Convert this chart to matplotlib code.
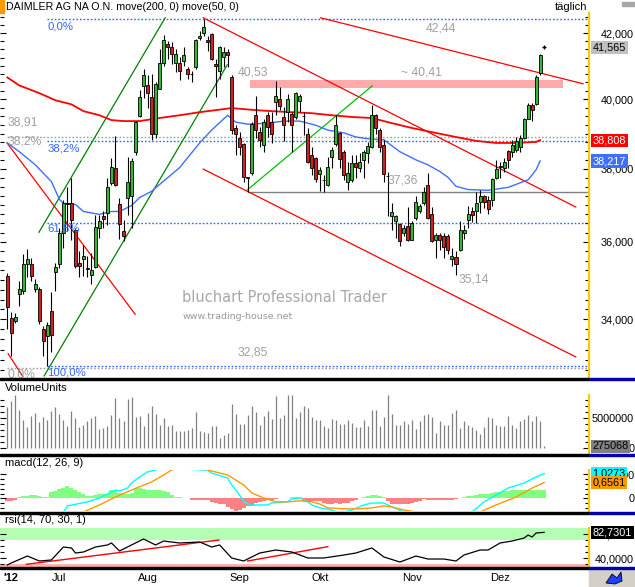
import numpy as np
import matplotlib
matplotlib.use('Agg')
import matplotlib.pyplot as plt
from matplotlib.patches import Rectangle, Polygon
from matplotlib.ticker import FixedLocator, FixedFormatter, NullFormatter

plt.rcParams['font.family'] = ['Liberation Sans', 'DejaVu Sans']

W, H = 635, 587

# ---- daily candles (index 1 = 13 Jun 2012) ----
opens = [35.10, 34.03, 33.95, 34.64, 34.72, 35.41, 35.43, 34.76, 34.77, 33.76,
         33.58, 34.21, 35.21, 35.43, 36.25, 37.06, 37.04, 36.33, 35.45, 35.54,
         35.32, 35.14, 35.35, 36.37, 36.70, 36.78, 37.59, 38.03, 37.02, 36.30,
         37.20, 37.23, 38.46, 39.51, 40.39, 40.43, 40.06, 39.00, 40.31, 41.10,
         41.66, 41.56, 41.10, 41.10, 41.15, 40.90, 40.76, 40.95, 41.85, 42.00,
         41.80, 41.97, 41.05, 40.85, 41.26, 41.43, 40.66, 39.15, 38.86, 38.70,
         37.76, 37.87, 39.55, 39.05, 38.67, 39.55, 39.34, 39.93, 40.01, 39.48,
         39.63, 39.58, 39.48, 39.96, 39.52, 39.00, 38.38, 38.31, 37.84, 37.69,
         37.56, 38.34, 38.69, 39.02, 38.48, 37.62, 37.69, 38.15, 38.03, 38.24,
         38.45, 38.62, 39.55, 39.10, 38.67, 37.80, 36.69, 36.55, 36.48, 36.24,
         36.43, 36.06, 36.64, 36.82, 37.04, 37.56, 36.75, 36.06, 36.19, 36.17,
         36.17, 35.54, 35.61, 35.80, 36.24, 36.60, 36.84, 36.82, 37.07, 37.23,
         37.14, 37.14, 37.73, 38.08, 38.03, 38.50, 38.46, 38.52, 38.62, 38.88,
         39.43, 39.82, 39.87, 40.78]
highs = [35.18, 34.18, 34.17, 34.98, 35.67, 35.82, 35.58, 35.02, 34.81, 33.84,
         33.93, 34.69, 35.45, 36.37, 37.14, 37.50, 37.73, 36.37, 35.75, 35.93,
         35.63, 35.71, 36.73, 36.73, 36.82, 37.73, 38.29, 38.93, 37.18, 36.60,
         38.34, 38.29, 39.36, 40.26, 40.90, 40.71, 40.76, 40.51, 41.51, 41.94,
         41.77, 41.72, 41.51, 41.26, 41.56, 40.95, 40.85, 41.82, 42.07, 42.44,
         41.92, 42.02, 41.20, 41.61, 41.56, 41.51, 40.71, 39.24, 39.05, 38.72,
         37.78, 39.34, 40.11, 39.19, 39.43, 39.63, 39.63, 40.53, 40.36, 39.77,
         40.16, 39.63, 40.21, 40.16, 39.63, 39.15, 38.62, 38.34, 38.05, 37.82,
         38.34, 38.62, 39.53, 39.05, 38.52, 38.19, 38.38, 38.38, 38.43, 38.52,
         38.76, 39.82, 39.58, 39.15, 38.81, 37.91, 37.04, 36.73, 36.51, 36.46,
         36.93, 36.55, 37.23, 37.02, 37.50, 37.89, 36.93, 36.24, 36.24, 36.24,
         36.21, 35.84, 35.75, 36.55, 36.46, 36.96, 36.93, 37.36, 37.41, 37.27,
         37.23, 37.73, 38.24, 38.19, 38.29, 38.52, 38.81, 38.91, 38.95, 39.45,
         39.90, 39.90, 40.71, 41.36]
lows = [33.76, 33.10, 33.90, 34.34, 34.65, 35.07, 34.98, 34.70, 33.88, 33.10,
        32.85, 33.20, 34.72, 35.32, 35.84, 36.28, 36.06, 35.32, 35.07, 35.11,
        35.07, 34.89, 35.32, 36.10, 36.37, 36.46, 37.55, 37.53, 36.09, 36.02,
        36.73, 36.37, 38.38, 39.48, 40.03, 39.74, 38.81, 38.86, 40.29, 41.00,
        41.20, 41.05, 40.80, 40.56, 41.00, 40.61, 40.51, 40.90, 41.80, 41.92,
        41.46, 41.17, 40.06, 40.61, 40.95, 40.95, 39.00, 38.38, 38.38, 37.64,
        37.36, 37.82, 38.86, 38.62, 38.46, 38.91, 38.72, 39.53, 39.67, 38.78,
        39.34, 38.48, 39.43, 39.63, 38.95, 38.15, 37.82, 37.64, 37.38, 37.35,
        37.53, 38.03, 38.65, 38.01, 37.69, 37.41, 37.64, 37.73, 37.91, 37.73,
        38.15, 38.59, 39.00, 38.48, 37.64, 36.69, 36.33, 36.10, 35.88, 36.15,
        36.03, 36.04, 36.60, 36.78, 37.00, 36.62, 35.99, 35.58, 35.80, 35.58,
        35.67, 35.37, 35.14, 35.75, 36.09, 36.37, 36.53, 36.51, 36.78, 36.91,
        36.75, 36.96, 37.71, 37.75, 37.91, 38.01, 38.34, 38.48, 38.48, 38.84,
        39.41, 39.36, 39.82, 40.73]
closes = [34.30, 33.65, 34.05, 34.77, 35.41, 35.56, 35.11, 34.89, 33.97, 33.47,
          33.87, 33.60, 35.35, 36.24, 37.06, 37.03, 36.60, 35.37, 35.37, 35.64,
          35.29, 35.26, 36.39, 36.55, 36.62, 37.50, 38.05, 37.55, 36.48, 36.15,
          37.62, 38.22, 39.32, 40.07, 40.71, 40.18, 39.00, 40.46, 41.10, 41.79,
          41.56, 41.36, 41.36, 40.85, 41.33, 40.76, 40.75, 41.79, 41.92, 42.18,
          41.72, 41.20, 41.00, 41.56, 41.43, 41.34, 39.10, 39.00, 38.62, 37.78,
          37.74, 39.29, 39.10, 38.81, 39.34, 39.19, 39.00, 40.11, 39.80, 39.24,
          40.01, 39.26, 40.19, 40.11, 39.50, 38.19, 38.03, 37.70, 37.96, 37.68,
          38.05, 38.52, 39.26, 38.27, 37.82, 37.87, 38.15, 38.05, 38.18, 38.46,
          38.64, 39.55, 39.15, 38.62, 37.84, 37.79, 36.80, 36.70, 36.03, 36.37,
          36.06, 36.51, 37.09, 36.96, 37.36, 36.64, 36.02, 36.19, 36.06, 35.86,
          35.80, 35.63, 35.43, 36.31, 36.33, 36.75, 36.73, 37.04, 37.23, 37.07,
          36.89, 37.70, 37.99, 38.06, 38.19, 38.24, 38.67, 38.78, 38.88, 39.43,
          39.84, 39.67, 40.66, 41.33]
last_tick = 41.565

# moving averages
ma200_idx = [1, 4, 9, 13, 17, 20, 24, 27, 30, 34, 39, 44, 49, 53, 57, 63, 67, 72, 77, 82,
             87, 92, 97, 102, 107, 113, 118, 123, 128, 133, 134]
ma200_val = [40.65, 40.41, 40.18, 39.97, 39.85, 39.65, 39.53, 39.39, 39.36, 39.36, 39.45,
             39.53, 39.62, 39.68, 39.74, 39.68, 39.65, 39.62, 39.59, 39.53, 39.48, 39.45,
             39.30, 39.16, 39.04, 38.90, 38.79, 38.73, 38.73, 38.76, 38.81]
ma50_idx = [1, 4, 8, 12, 14, 15, 18, 20, 24, 27, 29, 32, 34, 37, 39, 44, 49, 52, 56, 58,
            61, 66, 70, 74, 78, 81, 85, 88, 91, 95, 99, 103, 106, 109, 111, 113, 116, 121,
            126, 131, 133, 134]
ma50_val = [38.73, 38.48, 38.11, 37.64, 37.15, 37.04, 37.01, 36.82, 36.74, 36.82, 36.82,
            36.98, 37.20, 37.37, 37.56, 38.03, 38.73, 39.10, 39.53, 39.33, 39.27, 39.30,
            39.36, 39.36, 39.24, 39.10, 39.02, 38.90, 38.85, 38.82, 38.48, 38.25, 38.11,
            37.92, 37.76, 37.51, 37.42, 37.40, 37.48, 37.69, 37.97, 38.22]
ma200_last, ma50_last = 38.808, 38.217

# drawn trend lines: (x0, x1), (y0, y1)
red_lines = [((0.93, 32.9), (38.73, 34.13)),
             ((49.9, 142.9), (42.48, 36.94)),
             ((79.2, 144.7), (42.48, 40.46)),
             ((49.9, 142.9), (37.99, 33.07)),
             ((1.2, 4.9), (33.15, 32.59))]
dark_green_lines = [((8.9, 40.4), (36.26, 42.48)),
                    ((10.2, 55.9), (32.61, 41.03))]
light_green_lines = [((60.9, 92.1), (37.41, 40.40))]

fib_high, fib_low = 42.44, 32.85
fib_pct = [0.0, 38.2, 61.8, 100.0]
grey_levels = [38.91, 32.80]
support = 37.36
zone_lo, zone_hi = 40.33, 40.56

# volume in millions
volume = [6.78, 7.89, 8.89, 6.39, 4.72, 3.44, 5.28, 5.83, 4.33, 5.11,
          4.72, 6.11, 6.89, 5.67, 4.72, 3.61, 6.22, 5.00, 3.44, 3.89,
          4.44, 5.00, 5.33, 3.17, 3.33, 3.61, 5.56, 8.33, 5.00, 4.56,
          8.22, 8.56, 5.11, 5.28, 3.61, 5.83, 7.00, 5.72, 3.89, 5.00,
          3.61, 3.78, 2.78, 2.89, 2.89, 3.00, 3.33, 6.00, 2.78, 2.67,
          2.44, 3.61, 3.61, 1.67, 2.11, 2.50, 7.33, 5.67, 4.00, 4.00,
          5.56, 7.00, 6.00, 3.78, 5.33, 6.11, 4.89, 8.67, 5.00, 5.56,
          8.89, 8.89, 5.00, 6.00, 6.94, 6.67, 5.11, 4.72, 4.72, 3.61,
          3.33, 4.89, 4.72, 4.00, 4.00, 4.72, 4.17, 3.50, 3.50, 4.72,
          3.61, 6.39, 6.39, 3.61, 5.11, 8.89, 5.67, 3.78, 3.78, 4.56,
          4.00, 4.67, 3.22, 4.44, 5.56, 5.67, 5.11, 2.50, 4.56, 3.89,
          3.89, 5.83, 6.39, 3.33, 4.44, 3.89, 3.44, 3.06, 2.33, 3.44,
          5.17, 5.00, 3.89, 3.61, 3.72, 5.33, 3.78, 3.33, 4.44, 4.78,
          5.56, 4.56, 5.28, 4.44, 0.275068]

# macd(12, 26, 9)
macd_idx = [13, 15, 16, 21, 24, 27, 28, 29, 31, 32, 34, 36, 38, 41, 44, 47, 51, 52, 56, 57,
            59, 60, 62, 66, 67, 71, 72, 74, 76, 77, 79, 82, 84, 87, 90, 92, 95, 97, 100, 104,
            110, 114, 117, 120, 123, 126, 130, 133, 135]
macd_val = [-0.80, -0.56, -0.31, -0.14, 0.02, 0.27, 0.35, 0.31, 0.43, 0.64, 0.89, 1.10, 1.18,
            1.35, 1.40, 1.20, 1.17, 1.05, 0.85, 0.56, 0.14, -0.14, -0.27, -0.27, -0.19, -0.14,
            -0.02, 0.02, -0.14, -0.27, -0.39, -0.48, -0.60, -0.48, -0.27, -0.19, -0.19, -0.35,
            -0.56, -0.70, -0.75, -0.70, -0.56, -0.14, 0.14, 0.43, 0.64, 0.89, 1.0273]
signal_idx = [16, 20, 24, 28, 32, 37, 40, 42, 45, 48, 51, 56, 60, 62, 65, 68, 71, 74, 77, 79,
              81, 85, 89, 92, 95, 97, 100, 103, 108, 113, 119, 123, 128, 132, 135]
signal_val = [-0.70, -0.56, -0.27, 0.06, 0.35, 0.68, 0.97, 1.18, 1.30, 1.32, 1.18, 0.97, 0.56,
              0.23, 0.02, -0.14, -0.14, -0.10, -0.14, -0.23, -0.39, -0.43, -0.43, -0.39, -0.31,
              -0.35, -0.48, -0.56, -0.70, -0.72, -0.56, -0.27, 0.06, 0.43, 0.6561]
macd_hist = [-0.10, -0.12, -0.08, 0.08, 0.10, 0.12, 0.15, 0.14, 0.12, 0.08,
             0.06, 0.25, 0.30, 0.38, 0.44, 0.51, 0.45, 0.37, 0.25, 0.19,
             0.10, 0.10, 0.15, 0.17, 0.17, 0.20, 0.33, 0.33, 0.22, 0.19,
             0.19, 0.22, 0.44, 0.42, 0.38, 0.37, 0.36, 0.36, 0.35, 0.30,
             0.25, 0.15, 0.08, 0.04, 0.0, 0.0, -0.05, -0.06, -0.07, -0.07,
             -0.08, -0.15, -0.18, -0.22, -0.25, -0.35, -0.45, -0.50, -0.48, -0.40,
             -0.32, -0.30, -0.20, -0.15, -0.11, -0.08, -0.05, -0.03, 0.0, 0.0,
             0.02, 0.06, 0.08, 0.05, -0.11, -0.12, -0.11, -0.10, -0.11, -0.18,
             -0.22, -0.22, -0.20, -0.22, -0.20, -0.18, -0.12, -0.06, 0.0, 0.05,
             0.12, 0.14, 0.14, 0.10, 0.05, -0.12, -0.22, -0.25, -0.25, -0.25,
             -0.22, -0.20, -0.15, -0.10, -0.04, -0.07, -0.07, -0.07, -0.07, -0.07,
             -0.06, -0.05, -0.02, 0.0, 0.06, 0.10, 0.12, 0.15, 0.17, 0.18,
             0.20, 0.22, 0.25, 0.28, 0.30, 0.32, 0.33, 0.33, 0.35, 0.35,
             0.35, 0.36, 0.36, 0.37, 0.37]

# rsi(14, 70, 30, 1)
rsi_idx = [1, 2, 6, 9, 12, 15, 17, 18, 20, 23, 26, 27, 29, 32, 35, 38, 40, 44, 49, 52,
           54, 57, 60, 64, 68, 72, 76, 80, 85, 88, 92, 95, 99, 103, 106, 110, 113, 115, 119,
           121, 124, 127, 130, 131, 132, 133, 135]
rsi_val = [28.3, 31.7, 43.3, 35.0, 36.7, 58.3, 56.7, 48.3, 50.0, 58.3, 61.7, 65.0, 51.7,
           61.7, 71.7, 61.7, 68.3, 65.0, 66.7, 58.3, 61.7, 40.0, 35.0, 48.3, 53.3, 50.0,
           40.0, 40.0, 45.0, 48.3, 56.7, 41.7, 33.3, 43.3, 38.3, 38.3, 35.0, 45.0, 53.3,
           53.3, 65.0, 68.3, 73.3, 78.3, 75.0, 81.7, 82.7301]
rsi_lines = [((5.75, 53.8), (29.5, 70.0)), ((61.0, 81.0), (35.0, 58.9))]

month_idx = [2, 14, 36, 59, 79, 102, 124]
month_lab = ["'12", 'Jul', 'Aug', 'Sep', 'Okt', 'Nov', 'Dez']

X0, X1 = -0.83, 146.2
BLUE = '#3366FF'
GREY = '#A0A0A0'
YELLOW = '#FFC800'

fig = plt.figure(figsize=(W / 100, H / 100), dpi=100)
fig.patch.set_facecolor('white')


def px_axes(x0, y0, x1, y1):
    return fig.add_axes([x0 / W, 1 - y1 / H, (x1 - x0) / W, (y1 - y0) / H])


def px_rect(x, y, w, h, **kw):
    fig.patches.append(Rectangle((x / W, 1 - (y + h) / H), w / W, h / H,
                                 transform=fig.transFigure, **kw))


def px_text(x, y, s, size=8, **kw):
    fig.text(x / W, 1 - y / H, s, va='center', fontsize=size, **kw)


def style_panel(a, major, labels, minor):
    a.set_xlim(X0, X1)
    for s in ('top', 'bottom', 'left'):
        a.spines[s].set_visible(False)
    a.spines['right'].set_color(YELLOW)
    a.spines['right'].set_linewidth(1.6)
    a.set_xticks([])
    a.yaxis.set_major_locator(FixedLocator(major))
    a.yaxis.set_major_formatter(FixedFormatter(labels))
    a.yaxis.set_minor_locator(FixedLocator(minor))
    a.yaxis.set_minor_formatter(NullFormatter())
    a.tick_params(axis='y', which='both', direction='in', left=True, right=True,
                  labelleft=False, labelright=True, width=0.8, colors='black',
                  pad=32.5, labelsize=7.8)
    a.tick_params(axis='y', which='major', length=4)
    a.tick_params(axis='y', which='minor', length=3)
    for t in a.yaxis.get_major_ticks():
        t.label2.set_horizontalalignment('right')


def value_box(a, val, text, fc, tc, z=10):
    a.text(1.006, val, text, transform=a.get_yaxis_transform(), ha='left', va='center',
           fontsize=7.8, color=tc, clip_on=False, zorder=z,
           bbox=dict(boxstyle='square,pad=0.15', fc=fc, ec='none'))


# ---------------- price panel ----------------
ax = px_axes(0, 13, 589, 378)
ax.set_yscale('log')
ax.set_ylim(32.56, 42.63)
style_panel(ax, [34, 36, 38, 40, 42], ['34,000', '36,000', '38,000', '40,000', '42,000'],
            np.arange(32.75, 42.6, 0.25))

idx = np.arange(1, len(opens) + 1)
o, h, l, c = map(np.array, (opens, highs, lows, closes))

fib_prices = [fib_high - p / 100 * (fib_high - fib_low) for p in fib_pct]
ax.hlines(fib_prices, 11, X1, colors=BLUE, linestyles=(0, (1.2, 1.4)), lw=1, zorder=1)
ax.hlines(grey_levels, 1, X1, colors=GREY, linestyles=(0, (1.2, 1.4)), lw=1, zorder=1)
ax.hlines(support, 61, X1, colors='#808080', lw=1, zorder=1)
ax.fill_between([61.7, 139.7], zone_lo, zone_hi, color='#FFAAAA', lw=0, zorder=0.5)

for xs, ys in red_lines:
    ax.plot(xs, ys, color='#FF0000', lw=0.9, zorder=2)
for xs, ys in dark_green_lines:
    ax.plot(xs, ys, color='#008000', lw=0.9, zorder=2)
for xs, ys in light_green_lines:
    ax.plot(xs, ys, color='#00C000', lw=0.9, zorder=2)

ax.plot(ma200_idx, ma200_val, color='#FF0000', lw=1.3, zorder=2.5)
ax.plot(ma50_idx, ma50_val, color='#3F6FFF', lw=1.0, zorder=2.5)

ax.vlines(idx, l, h, color='black', lw=0.8, zorder=3)
body_col = np.where(c >= o, '#33B833', '#D02020')
ax.bar(idx, np.maximum(np.abs(c - o), 0.012), bottom=np.minimum(o, c), width=0.75,
       color=body_col, edgecolor='black', linewidth=0.6, zorder=4)
ax.plot([len(opens) + 1], [last_tick], marker='+', ms=3, mew=1, color='black', zorder=4)

notes = [(11, 42.21, '0,0%', BLUE), (11, 38.57, '38,2%', BLUE), (11, 36.35, '61,8%', BLUE),
         (11, 32.70, '100,0%', BLUE), (1.0, 39.32, '38,91', GREY), (1.0, 38.76, '38,2%', GREY),
         (1.0, 32.65, '0,0%', GREY), (1.0, 42.76, '61,8%', GREY), (105.4, 42.16, '42,44', GREY),
         (58.4, 40.79, '40,53', GREY), (99.2, 40.79, '~ 40,41', GREY), (95.9, 37.66, '37,36', GREY),
         (113.7, 35.02, '35,14', GREY), (58.4, 33.17, '32,85', GREY)]
for x, y, s, col in notes:
    ax.text(x, y, s, color=col, fontsize=8.7 if col == GREY else 8.2, va='center',
            ha='left', zorder=5, clip_on=True)

ax.text(44.6, 34.56, 'bluchart Professional Trader', color='#A8A8A8', fontsize=10.5,
        va='center', ha='left', family='DejaVu Sans', zorder=1)
ax.text(44.7, 34.07, 'www.trading-house.net', color='#999999', fontsize=6.8,
        va='center', ha='left', family='DejaVu Sans', zorder=1)

value_box(ax, last_tick, '41,565', '#C0C0C0', 'black')
value_box(ax, ma200_last, '38,808', '#FF0000', 'white')
value_box(ax, ma50_last, '38,217', '#3F6FFF', 'white')

# ---------------- volume panel ----------------
axv = px_axes(0, 395, 589, 453)
axv.set_ylim(-0.83, 8.83)
style_panel(axv, [0, 5], ['0', '5000000'], np.arange(0, 9, 1))
axv.vlines(np.arange(1, len(volume) + 1), 0, volume, color='#808080', lw=0.9)
value_box(axv, volume[-1], '275068', '#808080', 'black')

# ---------------- macd panel ----------------
axm = px_axes(0, 470, 589, 511)
axm.set_ylim(-0.52, 1.178)
style_panel(axm, [0, 1], ['0', '1,0000'], np.arange(-0.4, 1.2, 0.2))
hist = np.array(macd_hist)
hcol = np.where(hist >= 0, '#80FF80', '#FF8080')
axm.bar(np.arange(1, len(hist) + 1), hist, width=1.0, color=hcol, lw=0, zorder=1)
axm.plot(macd_idx, macd_val, color='#00FFFF', lw=1.0, zorder=2)
axm.plot(signal_idx, signal_val, color='#FF9900', lw=1.0, zorder=2)
value_box(axm, macd_val[-1], '1,0273', '#00FFFF', 'black', 10)
value_box(axm, signal_val[-1], '0,6561', '#FF9900', 'black', 11)

# ---------------- rsi panel ----------------
axr = px_axes(0, 528, 589, 567)
axr.set_ylim(25, 90)
style_panel(axr, [40, 80], ['40,0000', '80,0000'], np.arange(30, 90, 10))
axr.axhspan(70, 100, color='#B4FFB4', lw=0, zorder=0)
axr.axhspan(0, 30, color='#FFB0B0', lw=0, zorder=0)
for xs, ys in rsi_lines:
    axr.plot(xs, ys, color='#FF0000', lw=1.0, zorder=2)
axr.plot(rsi_idx, rsi_val, color='black', lw=0.9, zorder=3)
value_box(axr, rsi_val[-1], '82,7301', 'black', 'white')
axr.set_xticks(month_idx)
axr.set_xticklabels(month_lab)
axr.tick_params(axis='x', length=0, pad=4, labelsize=8)
axr.get_xticklabels()[0].set_fontweight('bold')

# ---------------- frame, separators, labels ----------------
for y in (378, 453.5, 511.5, 567):
    px_rect(0, y, 589, 2, color='black', zorder=20)
    px_rect(589, y, 46, 2, color='#0000B0', zorder=20)
px_rect(0, 0, 4, 13, color='#FF9900')
px_rect(622, 2, 13, 4, color='#A8A8A8')
px_rect(589, 569, 46, 18, color='#D4D0C8')
fig.patches.append(Polygon([(606 / W, 1 - 583 / H), (612 / W, 1 - 574 / H),
                            (617 / W, 1 - 578 / H), (621 / W, 1 - 572 / H),
                            (622 / W, 1 - 581 / H), (615 / W, 1 - 584 / H)],
                           closed=True, transform=fig.transFigure, fc='#2040FF',
                           ec='black', lw=0.6))

px_text(6, 7, 'DAIMLER AG NA O.N. move(200, 0) move(50, 0)', size=7.7, ha='left')
px_text(587, 7, 'täglich', ha='right')
px_text(5, 388, 'VolumeUnits', ha='left')
px_text(5, 463, 'macd(12, 26, 9)', ha='left')
px_text(5, 520, 'rsi(14, 70, 30, 1)', ha='left')

fig.savefig('out.png', dpi=100)
